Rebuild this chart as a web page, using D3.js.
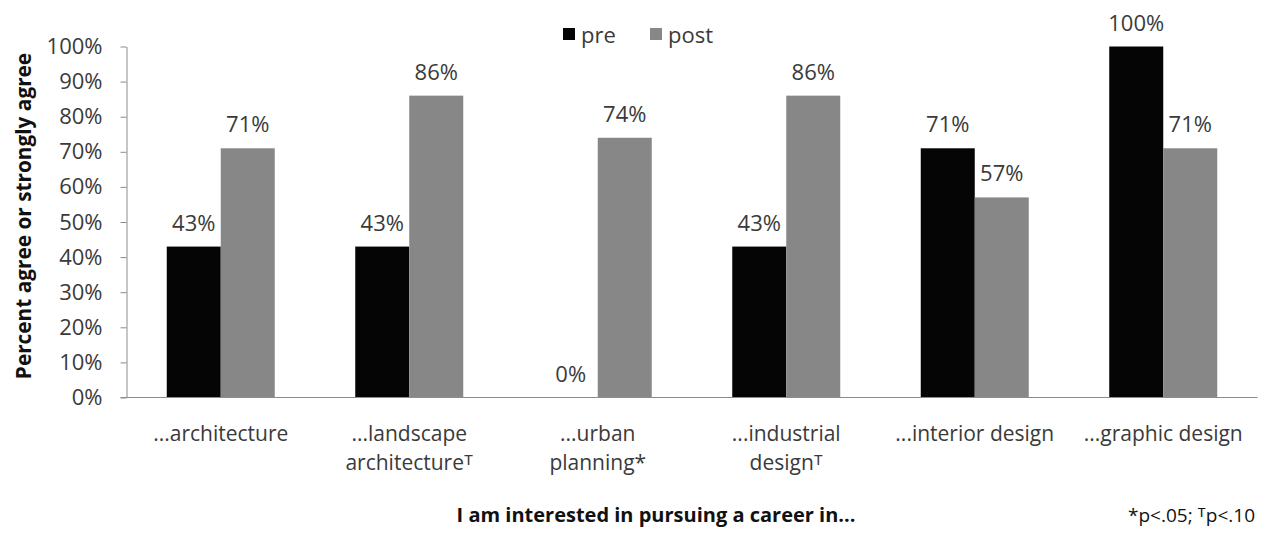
<!DOCTYPE html>
<html><head><meta charset="utf-8">
<script src="https://cdn.jsdelivr.net/npm/d3@7"></script>
<style>
body{margin:0;background:#fff;}
svg{display:block;font-family:"Open Sans",sans-serif;}
</style></head>
<body><svg id="c" width="1262" height="535"></svg>
<script>
const categories = ["architecture","landscape","urban","industrial","interior","graphic"];
const catLine1 = ["...architecture","...landscape","...urban","...industrial","...interior design","...graphic design"];
const catLine2 = ["","architecture\u1D40","planning*","design\u1D40","",""];
const preValues = [43,43,0,43,71,100];
const postValues = [71,86,74,86,57,71];
const seriesNames = ["pre","post"];
const yTicks = [0,10,20,30,40,50,60,70,80,90,100];

const svg = d3.select("#c");
const x0 = 126.5, x1 = 1257.5, yBottom = 397.5, yTop = 46.5;
const x = d3.scaleBand().domain(categories).range([x0,x1]).paddingInner(0).paddingOuter(0);
const y = d3.scaleLinear().domain([0,100]).range([yBottom,yTop]);
const barW = 54;
const colors = {pre:"#050505", post:"#878787"};
const textCol = "#3a3a3a";
const fs = "22px";

// y axis
const yAxis = d3.axisLeft(y).tickValues(yTicks).tickFormat(d=>d+"%").tickSize(6).tickSizeOuter(0);
const gy = svg.append("g").attr("transform",`translate(${x0},0)`).call(yAxis);
gy.select(".domain").attr("stroke","#8c8c8c");
gy.selectAll(".tick line").attr("stroke","#8c8c8c");
gy.selectAll(".tick text").attr("x",-24).attr("fill",textCol).style("font-size",fs).style("font-family","Open Sans");

// bars
const data = categories.map((c,i)=>({c, pre:preValues[i], post:postValues[i]}));
const g = svg.append("g");
data.forEach(d=>{
  const cx = x(d.c) + x.bandwidth()/2;
  [["pre",cx-barW,d.pre],["post",cx,d.post]].forEach(([s,bx,v])=>{
    g.append("rect").attr("x",bx).attr("width",barW).attr("y",y(v)).attr("height",yBottom-y(v)).attr("fill",colors[s]);
    g.append("text").attr("x",bx+barW/2).attr("y",y(v)-16).attr("text-anchor","middle")
      .attr("fill",textCol).style("font-size",fs).text(v+"%");
  });
});

// x axis line
svg.append("line").attr("x1",x0-6).attr("x2",x1).attr("y1",yBottom).attr("y2",yBottom).attr("stroke","#8c8c8c");

// category labels (one text element per category, second line as tspan)
categories.forEach((c,i)=>{
  const cx = x(c)+x.bandwidth()/2;
  const t = svg.append("text").attr("x",cx).attr("y",441).attr("text-anchor","middle").attr("fill",textCol).style("font-size","21px");
  t.append("tspan").attr("x",cx).text(catLine1[i]);
  if(catLine2[i]){
    t.append("tspan").attr("x",cx).attr("dy",29).text(catLine2[i]);
  }
});

// legend
const lg = svg.append("g");
[["pre",563,581],["post",650,668]].forEach(([s,rx,tx])=>{
  lg.append("rect").attr("x",rx).attr("y",28).attr("width",12).attr("height",12).attr("fill",colors[s]);
  lg.append("text").attr("x",tx).attr("y",43).attr("fill",textCol).style("font-size",fs).text(s);
});

// axis titles
svg.append("text").attr("transform","translate(31,216) rotate(-90)").attr("text-anchor","middle")
  .style("font-size","20.8px").style("font-weight","bold").attr("fill","#111").text("Percent agree or strongly agree");
svg.append("text").attr("x",656).attr("y",522).attr("text-anchor","middle")
  .style("font-size","20px").style("font-weight","bold").attr("fill","#111").text("I am interested in pursuing a career in...");
svg.append("text").attr("x",1128).attr("y",522).attr("fill","#111").style("font-size","19px").text("*p<.05; \u1D40p<.10");
</script></body></html>
